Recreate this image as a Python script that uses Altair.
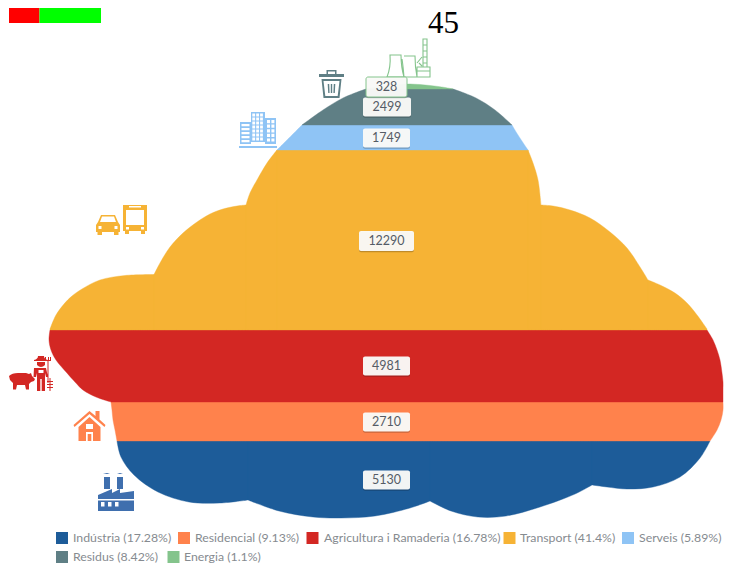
import altair as alt
import pandas as pd

# ---------- band values and labels ----------
band_names = ["Indústria", "Residencial", "Agricultura i Ramaderia", "Transport", "Serveis", "Residus", "Energia"]
band_values = [5130, 2710, 4981, 12290, 1749, 2499, 328]
band_pct = ["17.28%", "9.13%", "16.78%", "41.4%", "5.89%", "8.42%", "1.1%"]
band_colors = ["#1d5c99", "#ff824c", "#d32723", "#f6b335", "#8fc4f5", "#5f7f85", "#84c48c"]

# ---------- cloud outline ----------
# Lobes running left to right: x, top edge and bottom edge
transport_lobes = [
    ([50, 56, 64, 72, 82, 100, 125, 154], [329, 315, 304, 296, 289, 280, 275.5, 274.5]),
    ([154, 160, 170, 183, 197, 210, 223, 237, 246], [274.5, 263, 247, 233, 222, 214, 209, 206, 205]),
    ([246, 250, 257, 267, 277], [205, 193, 180, 163, 150]),
    ([277, 528], [150, 150]),
    ([528, 533, 538, 541], [150, 163, 180, 205]),
    ([541, 553, 570, 590, 610, 627, 640, 648], [205, 206, 210, 218, 232, 248, 267, 280]),
    ([648, 660, 675, 687, 697, 707], [280, 285, 293, 303, 315, 329]),
]
transport_bottom = 330

blue_top = 441
blue_lobes = [
    ([117, 121, 134, 158, 189, 220, 248], [441, 457, 475, 492, 502, 503, 500]),
    ([248, 279, 313, 341, 375, 410, 430], [500, 511, 517, 518, 516, 508, 501]),
    ([430, 451, 478, 506, 540, 575, 592], [501, 511, 517, 516, 507, 494, 485]),
    ([592, 607, 627, 653, 680, 700, 710], [485, 487, 489, 487, 477, 458, 441]),
]

# Bands running top to bottom: y, left edge and right edge
red_y = [330, 340, 350, 360, 373, 382, 390, 397, 402]
red_left = [50, 49, 51, 56, 67, 75, 83, 96, 111]
red_right = [707, 713, 717, 720, 722, 723, 723, 723, 723]

orange_y = [402, 410, 420, 430, 441]
orange_left = [111, 112, 113, 115, 117]
orange_right = [723, 723, 721, 717, 710]

serveis_y = [125, 135, 150]
serveis_left = [302, 292, 277]
serveis_right = [512, 518, 528]

residus_y = [89, 90, 98, 110, 125]
residus_left = [366, 363, 343, 323, 302]
residus_right = [453, 456, 476, 495, 512]

energia_x = [366, 380, 395, 410, 430, 445, 453]
energia_top = [89, 86.5, 85, 84, 85.5, 87.5, 89]
energia_bottom = 89

# ---------- value labels ----------
label_y = [480, 422, 366, 241, 138, 107, 87]
label_x = [386.5, 386.5, 386.5, 386.5, 386.5, 387, 386.5]
box_w = [47, 47, 47, 55, 47, 48, 41]
box_h = [19, 19, 19, 20, 19, 19, 20]

# ---------- legend ----------
legend_swatch_x = [62, 184, 312.5, 509.5, 628, 62, 173.5]
legend_text_x = [73, 195, 324, 520, 639, 73, 184]
legend_row_y = [538, 538, 538, 538, 538, 557, 557]

# ---------- header ----------
header_text = ["45"]
header_x = [443.5]
header_y = [23.5]
swatch_x = [9, 39.5]
swatch_x2 = [39.5, 101]
swatch_top = [8, 8]
swatch_bottom = [23, 23]
swatch_colors = ["#ff0000", "#00ff00"]

X = alt.Scale(domain=[8, 734], nice=False, zero=False)
Y = alt.Scale(domain=[564, 8], nice=False, zero=False)
CURVE = "catmull-rom"


def xq(f="x"):
    return alt.X(f"{f}:Q", scale=X, axis=None)


def yq(f="y"):
    return alt.Y(f"{f}:Q", scale=Y, axis=None)


def vband(xs, tops, bottoms, color):
    df = pd.DataFrame({"x": xs, "y": tops, "y2": bottoms})
    return alt.Chart(df).mark_area(orient="vertical", color=color, interpolate=CURVE,
                                   stroke=color, strokeWidth=0.4).encode(
        x=xq(), y=yq(), y2="y2:Q")


def hband(ys, lefts, rights, color):
    df = pd.DataFrame({"y": ys, "x": lefts, "x2": rights})
    return alt.Chart(df).mark_area(orient="horizontal", color=color, interpolate=CURVE,
                                   stroke=color, strokeWidth=0.4).encode(
        y=yq(), x=xq(), x2="x2:Q")


layers = []
for xs, ys in blue_lobes:
    layers.append(vband(xs, [blue_top] * len(xs), ys, band_colors[0]))
layers.append(hband(orange_y, orange_left, orange_right, band_colors[1]))
layers.append(hband(red_y, red_left, red_right, band_colors[2]))
for xs, ys in transport_lobes:
    layers.append(vband(xs, ys, [transport_bottom] * len(xs), band_colors[3]))
layers.append(hband(serveis_y, serveis_left, serveis_right, band_colors[4]))
layers.append(hband(residus_y, residus_left, residus_right, band_colors[5]))
layers.append(vband(energia_x, energia_top, [energia_bottom] * len(energia_x), band_colors[6]))


# ---------- icons: SVG paths in pixels round an anchor ----------
def hole(x, y, w, h):
    return f"M{x} {y} V{y + h} H{x + w} V{y} Z "


def solid(x, y, w, h):
    return f"M{x} {y} H{x + w} V{y + h} H{x} Z "


bus = ("M-12 -15 H12 V11 H10 V14 H6 V11 H-6 V14 H-10 V11 H-12 Z "
       + hole(-9, -10, 18, 15) + hole(-6, -14, 12, 1.5) + hole(-9, 7, 3, 2.5) + hole(6, 7, 3, 2.5))
car = ("M-12 0 L-10 -3 L-7 -10 H7 L10 -3 L12 0 V7 H10.5 V10 H6 V7 H-6 V10 H-10.5 V7 H-12 Z "
       "M-6 -8.5 L-8 -3 H8 L6 -8.5 Z " + hole(-9.5, 1, 3, 3) + hole(6.5, 1, 3, 3))
trash = ("M-12.5 -10 H-5 V-14 H5 V-10 H12.5 V-7 H-12.5 Z M-3.5 -12.5 V-10 H3.5 V-12.5 Z "
         "M-10 -5 H10 L8 14 H-8 Z M-8 -3 L-6.2 12 H6.2 L8 -3 Z "
         "M-3.8 0 H-2.3 L-1.9 9 H-3.3 Z M-0.7 0 H0.7 V9 H-0.7 Z M2.3 0 H3.8 L3.3 9 H1.9 Z")

tower_c = solid(-7.5, -15, 14, 30)
for r in range(7):
    for c in range(3):
        tower_c += hole(-6.2 + c * 3.9, -13.5 + r * 4, 2.8, 3)
tower_r = solid(6.5, -9, 11, 26)
for r in range(5):
    for c in range(2):
        tower_r += hole(8.5 + c * 4.4, -7 + r * 4.6, 3, 3.2)
tower_l = solid(-18.5, -5, 11, 22)
for r in range(5):
    tower_l += hole(-17, -3 + r * 4, 8, 2.3)
building = tower_c + tower_r + tower_l + solid(-19.5, 19, 38, 2)

plant_outline = ("M-15 -10 H-4 Q-4 2 -1 12 H-18 Q-14 2 -15 -10 Z "
                 "M-1 -9 H10 Q10 2 12 12 H-1 Q-2 0 -3 -6 "
                 "M18 -26 H22 V2 H18 Z M18 -20 H22 M18 -14 H22 M18 -8 H22 M18 -2 H22 "
                 "M12 2 H25 V12 H12 Z M12 6 H25 M17 -8 L12 -2 M14 -2 L17 1")

pig = ("M-13 -5 Q-10 -8 -4 -8 H4 L7 -7 L9 -8 L10 -5 L13 -2 L12 0 L9 1 L7 3 V8.5 H4 "
       "L3 4 H-5 L-6 8.5 H-9 L-9 2 L-12 -1 Z")
farmer = ("M-7 -13 Q-3 -14 -3 -17 H3 Q3 -14 7 -13 V-12 H-7 Z "
          "M-4 -11 H4 V-8 Q0 -4 -4 -8 Z "
          "M-7 -5 H5 L7 4 H5 L4 0 V18 H0.7 V6 H-0.7 V18 H-4 V0 L-5 4 H-7.5 Z "
          + hole(-2.5, -3, 5, 3)
          + solid(6.5, -12, 1, 22) + solid(4, -13, 6, 1) + solid(4, -16, 1, 3) + solid(7, -16, 1, 3)
          + solid(9, -16, 1, 3)
          + solid(8.5, 5, 1, 13) + solid(6, 8, 6, 1) + solid(6, 11, 6, 1) + solid(6, 14, 6, 1))

house = ("M0 -15 L6 -10 V-15 H10 V-6.5 L16 -1 L15 1 L0 -12 L-15 1 L-16 -1 Z "
         "M0 -9 L11 1 V15 H-11 V1 Z "
         + hole(-3.5, -2, 7, 5) + hole(-3.5, 6, 7, 9) + solid(-1.8, 8, 3.6, 7))

factory = ("M-12 -15 H-6 V-3 H-12 Z M1 -15 H7 V-3 H1 Z "
           "M-18 3 L-4 -3 V1 L4 -3 V1 L18 -1 V7 H-18 Z "
           "M-18 8.5 H18 V19 H-18 Z "
           + hole(-15, 10, 3.5, 4.5) + hole(-8, 10, 3.5, 4.5) + hole(-1, 10, 3.5, 4.5)
           + "M-13 -18 L-9 -19 L-6 -18 L-9 -18 Z M1 -18 L4 -19 L7 -18 L4 -18 Z")

icons = [
    (135, 220, bus, band_colors[3]),
    (108, 225, car, band_colors[3]),
    (331.5, 84, trash, band_colors[5]),
    (258.5, 127, building, band_colors[4]),
    (22, 381, pig, band_colors[2]),
    (41, 373, farmer, band_colors[2]),
    (89.5, 426, house, band_colors[1]),
    (116, 492, factory, "#3f6fae"),
]
for ix, iy, path, col in icons:
    layers.append(alt.Chart(pd.DataFrame({"x": [ix], "y": [iy]})).mark_point(
        shape=path, size=4, filled=True, fill=col, stroke=col, strokeWidth=0, opacity=1).encode(
        x=xq(), y=yq()))
layers.append(alt.Chart(pd.DataFrame({"x": [405], "y": [65]})).mark_point(
    shape=plant_outline, size=4, filled=False, stroke=band_colors[6], strokeWidth=1.1, opacity=1).encode(
    x=xq(), y=yq()))

# ---------- value labels ----------
labels = pd.DataFrame({"x": label_x, "y": label_y, "w": box_w, "h": box_h,
                       "v": [str(v) for v in band_values], "c": band_colors})
labels["ys"] = labels["y"] + 1.3
for _, r in labels.iterrows():
    row = pd.DataFrame([r])
    is_small = r["v"] == "328"
    layers.append(alt.Chart(row).mark_rect(width=r["w"], height=r["h"], cornerRadius=2,
                                           color="#000000", opacity=0.22).encode(x=xq(), y=yq("ys")))
    layers.append(alt.Chart(row).mark_rect(width=r["w"], height=r["h"], cornerRadius=2,
                                           fill="#fbfbf9", fillOpacity=0.96,
                                           stroke=r["c"] if is_small else "#fbfbf9",
                                           strokeWidth=1 if is_small else 0).encode(x=xq(), y=yq()))
layers.append(alt.Chart(labels).mark_text(font="Lato", fontSize=12.5, color="#555c66", baseline="middle",
                                          align="center").encode(x=xq(), y=yq(), text="v:N"))

# ---------- legend ----------
legend = pd.DataFrame({"sx": legend_swatch_x, "tx": legend_text_x, "y": legend_row_y, "c": band_colors,
                       "t": [f"{n} ({p})" for n, p in zip(band_names, band_pct)]})
for _, r in legend.iterrows():
    layers.append(alt.Chart(pd.DataFrame([r])).mark_rect(width=12, height=12, color=r["c"]).encode(
        x=xq("sx"), y=yq()))
layers.append(alt.Chart(legend).mark_text(font="Lato", fontSize=12.3, color="#868b90", align="left",
                                          baseline="middle").encode(x=xq("tx"), y=yq(), text="t:N"))

# ---------- header ----------
head = pd.DataFrame({"x": swatch_x, "x2": swatch_x2, "y": swatch_top, "y2": swatch_bottom, "c": swatch_colors})
for _, r in head.iterrows():
    layers.append(alt.Chart(pd.DataFrame([r])).mark_rect(color=r["c"]).encode(
        x=xq(), x2="x2:Q", y=yq(), y2="y2:Q"))
layers.append(alt.Chart(pd.DataFrame({"x": header_x, "y": header_y, "t": header_text})).mark_text(
    font="Liberation Serif", fontSize=31, color="#000000", align="center", baseline="middle").encode(
    x=xq(), y=yq(), text="t:N"))

chart = alt.layer(*layers).properties(
    width=726, height=556, padding=0, autosize=alt.AutoSizeParams(type="none")
).configure_view(stroke=None)

chart.save("out.html", embed_options={"renderer": "svg", "actions": False})
